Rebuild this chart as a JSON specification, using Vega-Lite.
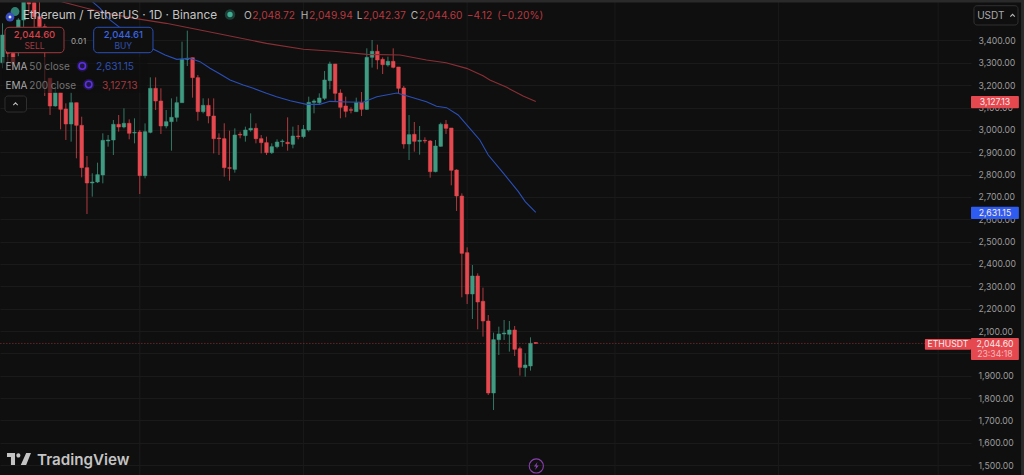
{"$schema":"https://vega.github.io/schema/vega-lite/v6.json","width":971,"height":475,"autosize":{"type":"none"},"padding":{"left":0,"top":0,"right":53,"bottom":0},"background":"#0f0f0f","view":{"stroke":null},"config":{"text":{"font":"Inter"},"axis":{"labelFont":"Inter"}},
"datasets":{"candles":[
{"day":0,"open":3300.8,"high":3476.8,"low":3275.5,"close":3424.6,"dir":"up"},
{"day":1,"open":3402,"high":3440,"low":3298,"close":3342.6,"dir":"down"},
{"day":2,"open":3342.6,"high":3360,"low":3270,"close":3297.8,"dir":"down"},
{"day":3,"open":3357,"high":3500,"low":3330,"close":3492,"dir":"up"},
{"day":4,"open":3491.7,"high":3590,"low":3461,"close":3573.7,"dir":"up"},
{"day":5,"open":3573.7,"high":3590,"low":3520,"close":3563.3,"dir":"down"},
{"day":6,"open":3569.3,"high":3590,"low":3440,"close":3506.6,"dir":"down"},
{"day":7,"open":3506.6,"high":3581,"low":3400,"close":3461.9,"dir":"down"},
{"day":8,"open":3462,"high":3475,"low":3151.7,"close":3350,"dir":"down"},
{"day":9,"open":3231,"high":3231,"low":3066.7,"close":3106.9,"dir":"down"},
{"day":10,"open":3106.9,"high":3193.4,"low":3104,"close":3166.6,"dir":"up"},
{"day":11,"open":3166.6,"high":3166.6,"low":3002.5,"close":3092,"dir":"down"},
{"day":12,"open":3093.5,"high":3118.9,"low":2954.8,"close":3026.4,"dir":"down"},
{"day":13,"open":3026.4,"high":3166.6,"low":2947.4,"close":3121.8,"dir":"up"},
{"day":14,"open":3121.8,"high":3121.8,"low":2872.8,"close":3020.4,"dir":"down"},
{"day":15,"open":3020.4,"high":3059,"low":2787.8,"close":2831,"dir":"down"},
{"day":16,"open":2831,"high":2883,"low":2623.7,"close":2762.4,"dir":"down"},
{"day":17,"open":2762.4,"high":2805.7,"low":2701.3,"close":2766.9,"dir":"up"},
{"day":18,"open":2766.9,"high":2853.4,"low":2762.4,"close":2799.7,"dir":"up"},
{"day":19,"open":2798.2,"high":2984.6,"low":2760.9,"close":2953.3,"dir":"up"},
{"day":20,"open":2950.3,"high":2977,"low":2925,"close":2954.8,"dir":"up"},
{"day":21,"open":2954.8,"high":3044.3,"low":2887.7,"close":3024.9,"dir":"up"},
{"day":22,"open":3024.9,"high":3066.7,"low":2992,"close":3013,"dir":"down"},
{"day":23,"open":3013,"high":3096.5,"low":3007,"close":3029.4,"dir":"up"},
{"day":24,"open":3029.4,"high":3047.3,"low":2957.8,"close":2984.6,"dir":"down"},
{"day":25,"open":2986,"high":3051.8,"low":2939.9,"close":2989,"dir":"up"},
{"day":26,"open":2990.6,"high":2999.6,"low":2713.2,"close":2795.2,"dir":"down"},
{"day":27,"open":2795.2,"high":3029,"low":2783.3,"close":2992,"dir":"up"},
{"day":28,"open":2989,"high":3235.2,"low":2984.6,"close":3186,"dir":"up"},
{"day":29,"open":3186,"high":3235,"low":3089,"close":3129.3,"dir":"down"},
{"day":30,"open":3129.3,"high":3186,"low":2981.7,"close":3017.5,"dir":"down"},
{"day":31,"open":3017.5,"high":3089,"low":3007,"close":3036.8,"dir":"up"},
{"day":32,"open":3036.8,"high":3141.2,"low":2907,"close":3056.2,"dir":"up"},
{"day":33,"open":3056.2,"high":3148.7,"low":3036.8,"close":3121.8,"dir":"up"},
{"day":34,"open":3121.8,"high":3394.8,"low":3121.8,"close":3315.7,"dir":"up"},
{"day":35,"open":3315.7,"high":3444,"low":3285.9,"close":3320.2,"dir":"up"},
{"day":36,"open":3323.2,"high":3323.2,"low":3144.2,"close":3233.7,"dir":"down"},
{"day":37,"open":3233.7,"high":3245.6,"low":3041.3,"close":3081.6,"dir":"down"},
{"day":38,"open":3081.6,"high":3141.2,"low":3074,"close":3109.9,"dir":"up"},
{"day":39,"open":3109.9,"high":3141,"low":3029.4,"close":3062.2,"dir":"down"},
{"day":40,"open":3062.2,"high":3141,"low":2895,"close":2960.8,"dir":"down"},
{"day":41,"open":2963.8,"high":2984.6,"low":2887.7,"close":2960.8,"dir":"down"},
{"day":42,"open":2960.8,"high":3029.4,"low":2790.8,"close":2831,"dir":"down"},
{"day":43,"open":2831,"high":2996.6,"low":2772.9,"close":2828,"dir":"down"},
{"day":44,"open":2823.6,"high":3007,"low":2808.7,"close":2977.2,"dir":"up"},
{"day":45,"open":2980.2,"high":2992,"low":2962.3,"close":2977.2,"dir":"down"},
{"day":46,"open":2974.2,"high":3014.5,"low":2947.4,"close":2999.6,"dir":"up"},
{"day":47,"open":2999.6,"high":3074,"low":2992,"close":3007,"dir":"up"},
{"day":48,"open":3007,"high":3029.4,"low":2939.9,"close":2960.8,"dir":"down"},
{"day":49,"open":2960.8,"high":2977,"low":2895,"close":2942.9,"dir":"down"},
{"day":50,"open":2942.9,"high":2969.7,"low":2887.7,"close":2898.2,"dir":"down"},
{"day":51,"open":2898.2,"high":2939.9,"low":2892.2,"close":2925,"dir":"up"},
{"day":52,"open":2925,"high":2957.8,"low":2917.5,"close":2945.9,"dir":"up"},
{"day":53,"open":2947.4,"high":2957.8,"low":2925,"close":2950.3,"dir":"up"},
{"day":54,"open":2944.4,"high":3056.2,"low":2907,"close":2938.4,"dir":"down"},
{"day":55,"open":2935.4,"high":3014.5,"low":2917.5,"close":2972.7,"dir":"up"},
{"day":56,"open":2972.7,"high":3021.9,"low":2957.8,"close":2969.7,"dir":"down"},
{"day":57,"open":2969.7,"high":3021.9,"low":2962.3,"close":3002.5,"dir":"up"},
{"day":58,"open":2999.6,"high":3148.7,"low":2992.1,"close":3123.4,"dir":"up"},
{"day":59,"open":3123.4,"high":3136.8,"low":3074.1,"close":3129.3,"dir":"up"},
{"day":60,"open":3121.9,"high":3163.6,"low":3111.4,"close":3142.8,"dir":"up"},
{"day":61,"open":3141.3,"high":3263.6,"low":3133.8,"close":3223.3,"dir":"up"},
{"day":62,"open":3220.3,"high":3305.3,"low":3181.5,"close":3294.9,"dir":"up"},
{"day":63,"open":3294.9,"high":3294.9,"low":3126.3,"close":3163.6,"dir":"down"},
{"day":64,"open":3165.1,"high":3181.5,"low":3051.8,"close":3101,"dir":"down"},
{"day":65,"open":3107,"high":3148.7,"low":3056.3,"close":3083.1,"dir":"down"},
{"day":66,"open":3090.6,"high":3101,"low":3074.1,"close":3087.6,"dir":"down"},
{"day":67,"open":3081.6,"high":3144.2,"low":3081.6,"close":3121.9,"dir":"up"},
{"day":68,"open":3121.9,"high":3169.6,"low":3062.2,"close":3092,"dir":"down"},
{"day":69,"open":3092,"high":3365,"low":3089,"close":3324.7,"dir":"up"},
{"day":70,"open":3324.7,"high":3402.3,"low":3278.5,"close":3351.6,"dir":"up"},
{"day":71,"open":3351.6,"high":3381.4,"low":3271,"close":3312.8,"dir":"down"},
{"day":72,"open":3315.8,"high":3324.7,"low":3250.1,"close":3291.9,"dir":"down"},
{"day":73,"open":3290.4,"high":3327.7,"low":3282.9,"close":3306.8,"dir":"up"},
{"day":74,"open":3306.8,"high":3365,"low":3275.5,"close":3280,"dir":"down"},
{"day":75,"open":3281.5,"high":3281.5,"low":3163.6,"close":3186,"dir":"down"},
{"day":76,"open":3187.5,"high":3196.4,"low":2916.1,"close":2937,"dir":"down"},
{"day":77,"open":2937,"high":3066.7,"low":2865.4,"close":2978.7,"dir":"up"},
{"day":78,"open":2980.2,"high":3035.4,"low":2902.6,"close":2948.9,"dir":"down"},
{"day":79,"open":2948.9,"high":3017.5,"low":2889.2,"close":2953.3,"dir":"up"},
{"day":80,"open":2953.3,"high":2966.8,"low":2940,"close":2950.4,"dir":"down"},
{"day":81,"open":2950.4,"high":2954.8,"low":2786.3,"close":2813.2,"dir":"down"},
{"day":82,"open":2813.2,"high":2954.8,"low":2810.2,"close":2928,"dir":"up"},
{"day":83,"open":2926.5,"high":3032.4,"low":2925,"close":3025,"dir":"up"},
{"day":84,"open":3025,"high":3044.3,"low":2981.7,"close":3007,"dir":"down"},
{"day":85,"open":3008.5,"high":3008.5,"low":2752,"close":2819.1,"dir":"down"},
{"day":86,"open":2820.6,"high":2823.6,"low":2637.2,"close":2704.3,"dir":"down"},
{"day":87,"open":2704,"high":2716,"low":2251,"close":2447.7,"dir":"down"},
{"day":88,"open":2450.7,"high":2474.6,"low":2221.1,"close":2265.8,"dir":"down"},
{"day":89,"open":2265.8,"high":2395.5,"low":2153.9,"close":2346.3,"dir":"up"},
{"day":90,"open":2346.3,"high":2358.3,"low":2107.7,"close":2230,"dir":"down"},
{"day":91,"open":2233,"high":2294.1,"low":2074.9,"close":2145,"dir":"down"},
{"day":92,"open":2145,"high":2171.8,"low":1813.9,"close":1822.8,"dir":"down"},
{"day":93,"open":1822.8,"high":2092.8,"low":1746.8,"close":2061.5,"dir":"up"},
{"day":94,"open":2061.5,"high":2119.6,"low":1992.9,"close":2086.8,"dir":"up"},
{"day":95,"open":2086.8,"high":2149.5,"low":2060,"close":2091.3,"dir":"up"},
{"day":96,"open":2085.4,"high":2145,"low":2007.8,"close":2104.7,"dir":"up"},
{"day":97,"open":2104.7,"high":2122.6,"low":1988.4,"close":2018.2,"dir":"down"},
{"day":98,"open":2021.2,"high":2030.2,"low":1900.4,"close":1937.7,"dir":"down"},
{"day":99,"open":1936.2,"high":2000.4,"low":1895.9,"close":1948.1,"dir":"up"},
{"day":100,"open":1943.7,"high":2071.9,"low":1922.8,"close":2045.1,"dir":"up"},
{"day":101,"open":2048.72,"high":2049.94,"low":2042.37,"close":2044.6,"dir":"down"}
],
"ema50":[{"day":17,"value":3573.7},{"day":18.5,"value":3543.9},{"day":20,"value":3499.2},{"day":22,"value":3461.9},{"day":28.6,"value":3360.5},{"day":30.8,"value":3335.1},{"day":33,"value":3315.7},{"day":35.5,"value":3320.2},{"day":37.4,"value":3305.3},{"day":39.3,"value":3275.5},{"day":41.2,"value":3250.1},{"day":43.1,"value":3223.3},{"day":45.6,"value":3200.9},{"day":47.5,"value":3186},{"day":50,"value":3163.6},{"day":51.9,"value":3148.7},{"day":54.5,"value":3130.8},{"day":57.6,"value":3114.4},{"day":60.1,"value":3114.4},{"day":62,"value":3127.8},{"day":65.2,"value":3124.9},{"day":68.3,"value":3123.4},{"day":70.9,"value":3148.7},{"day":74.7,"value":3165.1},{"day":76.5,"value":3153.2},{"day":80.3,"value":3126.3},{"day":82.2,"value":3105.5},{"day":84.1,"value":3099.5},{"day":86.3,"value":3066.6},{"day":88.5,"value":3007},{"day":90.4,"value":2954.8},{"day":92,"value":2887.7},{"day":94.9,"value":2805.6},{"day":97.7,"value":2723.6},{"day":99,"value":2678.9},{"day":101,"value":2631.15}],
"ema200":[{"day":11.2,"value":3573.7},{"day":18.5,"value":3529},{"day":25,"value":3499},{"day":31,"value":3476.8},{"day":37.4,"value":3447},{"day":41.2,"value":3429},{"day":50,"value":3387.3},{"day":57,"value":3360.5},{"day":62.7,"value":3351.6},{"day":69,"value":3338.1},{"day":75.3,"value":3335.1},{"day":80.3,"value":3312.7},{"day":84,"value":3300.8},{"day":87.9,"value":3275.4},{"day":91,"value":3242.6},{"day":92.3,"value":3223.2},{"day":95.5,"value":3190.4},{"day":98.6,"value":3151.6},{"day":101,"value":3127.13}]},
"encoding":{"x":{"field":"day","type":"quantitative","scale":{"domain":[-0.4735,183.43],"nice":false,"zero":false,"padding":0},"axis":null},"y":{"field":"price","type":"quantitative","scale":{"domain":[1455.9,3581.2],"nice":false,"zero":false},"axis":{"orient":"right","title":null,"values":[1500,1600,1700,1800,1900,2000,2100,2200,2300,2400,2500,2600,2700,2800,2900,3000,3100,3200,3300,3400],"format":",.2f","labelFontSize":8.7,"labelColor":"#9c9c9c","labelPadding":7,"labelOverlap":false,"labelFlush":false,"ticks":false,"domain":false,"grid":true,"gridColor":"#1a1a1a","gridWidth":1}}},
"layer":[
{"data":{"values":[{"day":26},{"day":57},{"day":88},{"day":116},{"day":147},{"day":177.2}]},"mark":{"type":"rule","color":"#1a1a1a","strokeWidth":1},"encoding":{"y":{"value":0},"y2":{"value":475}}},
{"data":{"name":"candles"},"mark":{"type":"rule","strokeWidth":1,"opacity":0.75},"encoding":{"y":{"field":"low","type":"quantitative"},"y2":{"field":"high"},"color":{"field":"dir","type":"nominal","legend":null,"scale":{"domain":["up","down"],"range":["#3f9b82","#e5484f"]}}}},
{"data":{"name":"candles"},"mark":{"type":"bar","size":3.6,"strokeWidth":0.5},"encoding":{"y":{"field":"open","type":"quantitative"},"y2":{"field":"close"},"color":{"field":"dir","type":"nominal","legend":null},"stroke":{"field":"dir","type":"nominal","legend":null,"scale":{"domain":["up","down"],"range":["#3f9b82","#e5484f"]}}}},
{"data":{"name":"ema200"},"mark":{"type":"line","color":"#8a2f35","strokeWidth":1.1,"clip":true},"encoding":{"y":{"field":"value","type":"quantitative"}}},
{"data":{"name":"ema50"},"mark":{"type":"line","color":"#2a4fb8","strokeWidth":1.1,"clip":true},"encoding":{"y":{"field":"value","type":"quantitative"}}},
{"data":{"values":[{"day":-0.4,"day2":174.7,"price":2044.6}]},"mark":{"type":"rule","color":"#e5484f","opacity":0.6,"strokeDash":[1,2],"strokeWidth":1},"encoding":{"x2":{"field":"day2"}}},
{"data":{"values":[{"day":-0.09,"day2":27.4,"price":3326.2,"price2":3165.1}]},"mark":{"type":"rect","fill":"#0f0f0f","opacity":0.62},"encoding":{"x2":{"field":"day2"},"y2":{"field":"price2"}}},
{"data":{"values":[{"day":0.47,"day2":11.65,"price":3459,"price2":3345.4}]},"mark":{"type":"rect","fill":"#0f0f0f","stroke":"#a3383f","strokeWidth":1,"cornerRadius":4},"encoding":{"x2":{"field":"day2"},"y2":{"field":"price2"}}},
{"data":{"values":[{"day":17.27,"day2":28.5,"price":3459,"price2":3345.4}]},"mark":{"type":"rect","fill":"#0f0f0f","stroke":"#2a4fb8","strokeWidth":1,"cornerRadius":4},"encoding":{"x2":{"field":"day2"},"y2":{"field":"price2"}}},
{"data":{"values":[{"day":0.47,"day2":4.55,"price":3151.7,"price2":3080},{"day":183.99,"day2":192.33,"price":3555.7,"price2":3469.3}]},"mark":{"type":"rect","fill":"#0f0f0f","stroke":"#303030","strokeWidth":1,"cornerRadius":3},"encoding":{"x2":{"field":"day2"},"y2":{"field":"price2"}}},
{"data":{"values":[{"day":183.43,"day2":192.5,"price":3151.7,"price2":3096.6},{"day":174.7,"day2":183.43,"price":2064.4,"price2":2016.5},{"day":183.43,"day2":192.5,"price":2068.9,"price2":1970.5}]},"mark":{"type":"rect","fill":"#e5484f","cornerRadius":1},"encoding":{"x2":{"field":"day2"},"y2":{"field":"price2"}}},
{"data":{"values":[{"day":183.43,"day2":192.5,"price":2656.4,"price2":2601.3}]},"mark":{"type":"rect","fill":"#2f5cf0","cornerRadius":1},"encoding":{"x2":{"field":"day2"},"y2":{"field":"price2"}}},
{"data":{"values":[{"day":187.97,"price":3124.8,"label":"3,127.13"},{"day":187.97,"price":2629.5,"label":"2,631.15"},{"day":187.97,"price":2042,"label":"2,044.60"},{"day":179.07,"price":2039.8,"label":"ETHUSDT"}]},"mark":{"type":"text","align":"center","baseline":"middle","fontSize":8.7,"color":"#fbeaea"},"encoding":{"text":{"field":"label"}}},
{"data":{"values":[{"day":187.97,"price":1999.5,"label":"23:34:18"}]},"mark":{"type":"text","align":"center","baseline":"middle","fontSize":8.7,"color":"#f6b9bc"},"encoding":{"text":{"field":"label"}}},
{"data":{"values":[{"day":3.83,"price":3496.2,"label":"Ethereum / TetherUS · 1D · Binance"}]},"mark":{"type":"text","align":"left","baseline":"alphabetic","fontSize":11.8,"color":"#c4c4c4"},"encoding":{"text":{"field":"label"}}},
{"data":{"values":[{"day":45.74,"price":3496.2,"label":"O"},{"day":56.48,"price":3496.2,"label":"H"},{"day":67.08,"price":3496.2,"label":"L"},{"day":77.31,"price":3496.2,"label":"C"}]},"mark":{"type":"text","align":"left","baseline":"alphabetic","fontSize":10.2,"color":"#b4b4b4"},"encoding":{"text":{"field":"label"}}},
{"data":{"values":[{"day":47.31,"price":3496.2,"label":"2,048.72"},{"day":58.05,"price":3496.2,"label":"2,049.94"},{"day":68.28,"price":3496.2,"label":"2,042.37"},{"day":78.88,"price":3496.2,"label":"2,044.60"},{"day":87.92,"price":3496.2,"label":"−4.12"},{"day":93.71,"price":3496.2,"label":"(−0.20%)"}]},"mark":{"type":"text","align":"left","baseline":"alphabetic","fontSize":10.2,"color":"#b8383f"},"encoding":{"text":{"field":"label"}}},
{"data":{"values":[{"day":6.06,"price":3411.2,"label":"2,044.60"}]},"mark":{"type":"text","align":"center","baseline":"alphabetic","fontSize":9.5,"fontWeight":500,"color":"#d8414a"},"encoding":{"text":{"field":"label"}}},
{"data":{"values":[{"day":6.06,"price":3363.9,"label":"SELL"}]},"mark":{"type":"text","align":"center","baseline":"alphabetic","fontSize":8.5,"color":"#a3383f"},"encoding":{"text":{"field":"label"}}},
{"data":{"values":[{"day":22.88,"price":3411.2,"label":"2,044.61"}]},"mark":{"type":"text","align":"center","baseline":"alphabetic","fontSize":9.5,"fontWeight":500,"color":"#3a66e0"},"encoding":{"text":{"field":"label"}}},
{"data":{"values":[{"day":22.88,"price":3363.9,"label":"BUY"}]},"mark":{"type":"text","align":"center","baseline":"alphabetic","fontSize":8.5,"color":"#2f50b0"},"encoding":{"text":{"field":"label"}}},
{"data":{"values":[{"day":14.4,"price":3384.3,"label":"0.01"}]},"mark":{"type":"text","align":"center","baseline":"alphabetic","fontSize":8,"color":"#a8a8a8"},"encoding":{"text":{"field":"label"}}},
{"data":{"values":[{"day":0.57,"price":3268,"label":"EMA"},{"day":0.57,"price":3185.2,"label":"EMA"},{"day":184.6,"price":3498.4,"label":"USDT"}]},"mark":{"type":"text","align":"left","baseline":"alphabetic","fontSize":10,"color":"#aaaaaa"},"encoding":{"text":{"field":"label"}}},
{"data":{"values":[{"day":5.08,"price":3268,"label":"50 close"},{"day":5.08,"price":3185.2,"label":"200 close"}]},"mark":{"type":"text","align":"left","baseline":"alphabetic","fontSize":10,"color":"#737373"},"encoding":{"text":{"field":"label"}}},
{"data":{"values":[{"day":17.71,"price":3268,"label":"2,631.15"}]},"mark":{"type":"text","align":"left","baseline":"alphabetic","fontSize":10.2,"color":"#2f50b0"},"encoding":{"text":{"field":"label"}}},
{"data":{"values":[{"day":18.85,"price":3185.2,"label":"3,127.13"}]},"mark":{"type":"text","align":"left","baseline":"alphabetic","fontSize":10.2,"color":"#a3383f"},"encoding":{"text":{"field":"label"}}},
{"data":{"values":[{"day":15.11,"price":3285.9},{"day":16.33,"price":3203.1}]},"mark":{"type":"point","filled":true,"fill":"#3a1f8c","opacity":0.45,"size":130,"shape":"circle"}},
{"data":{"values":[{"day":15.11,"price":3285.9},{"day":16.33,"price":3203.1}]},"mark":{"type":"point","filled":false,"stroke":"#5a30e0","strokeWidth":1.6,"opacity":1,"size":42,"shape":"circle"}},
{"data":{"values":[{"day":2.37,"price":3529.7}]},"mark":{"type":"point","filled":true,"fill":"#2f7f73","opacity":1,"size":78,"shape":"circle"}},
{"data":{"values":[{"day":1.42,"price":3505.1}]},"mark":{"type":"point","filled":true,"fill":"#3a4dbf","opacity":1,"size":78,"shape":"circle"}},
{"data":{"values":[{"day":1.42,"price":3505.1}]},"mark":{"type":"point","filled":true,"fill":"#e8ecff","opacity":1,"size":12,"shape":"diamond"}},
{"data":{"values":[{"day":43.09,"price":3516.3}]},"mark":{"type":"point","filled":true,"fill":"#1f4a40","opacity":0.8,"size":110,"shape":"circle"}},
{"data":{"values":[{"day":43.09,"price":3516.3}]},"mark":{"type":"point","filled":true,"fill":"#3fae93","opacity":1,"size":28,"shape":"circle"}},
{"data":{"values":[{"day":2.46,"price":3115.9},{"day":191.3,"price":3511.8}]},"mark":{"type":"point","filled":false,"stroke":"#bbbbbb","strokeWidth":1.1,"opacity":1,"size":20,"shape":"M-1 0.5L0 -0.5L1 0.5"}},
{"data":{"values":[{"day":3.12,"price":1527.5}]},"mark":{"type":"point","filled":true,"fill":"#c4c4c4","opacity":1,"size":576,"shape":"M-1 -0.5H-0.33V0.5H-0.67V-0.17H-1ZM-0.22 -0.3A0.17 0.17 0 1 0 0.12 -0.3A0.17 0.17 0 1 0 -0.22 -0.3ZM0.6 -0.5H1L0.6 0.5H0.15Z"}},
{"data":{"values":[{"day":6.53,"price":1500.6,"label":"TradingView"}]},"mark":{"type":"text","align":"left","baseline":"alphabetic","fontSize":15.2,"fontWeight":600,"color":"#c4c4c4"},"encoding":{"text":{"field":"label"}}},
{"data":{"values":[{"day":101.1,"price":1496.2}]},"mark":{"type":"point","filled":false,"stroke":"#8a3fb0","strokeWidth":1.1,"opacity":1,"size":200,"shape":"circle"}},
{"data":{"values":[{"day":101.1,"price":1496.2}]},"mark":{"type":"point","filled":true,"fill":"#8a3fb0","opacity":1,"size":64,"shape":"M0.3 -1L-0.6 0.15H-0.05L-0.3 1L0.6 -0.15H0.05Z"}},
{"data":{"values":[{"day":-0.4735,"day2":193.4,"price":3581.2}]},"mark":{"type":"rule","color":"#2a2a2a","strokeWidth":5},"encoding":{"x2":{"field":"day2"}}},
{"data":{"values":[{"day":193.4,"price":3581.2,"price2":1455.9}]},"mark":{"type":"rule","color":"#2a2a2a","strokeWidth":5},"encoding":{"y2":{"field":"price2"}}}
]}
